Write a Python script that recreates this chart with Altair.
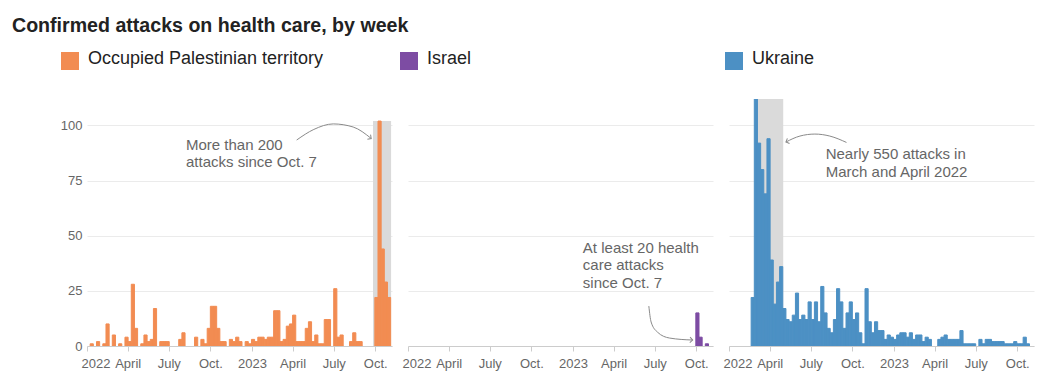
import altair as alt
import pandas as pd

FONT = "Liberation Sans"
TITLE = "Confirmed attacks on health care, by week"
series_names = ["Occupied Palestinian territory", "Israel", "Ukraine"]
series_colors = ["#f28c52", "#7d4ca3", "#4c90c4"]

# weekly bins (weeks starting on Saturday, 2022-01-01 ... 2023-10-28)
week_starts = pd.date_range("2022-01-01", periods=96, freq="7D")

opt_values = [
    0, 1, 0, 2, 0, 1, 10, 0, 5, 0,
    1, 0, 4, 2, 28, 8, 0, 1, 5, 2,
    3, 17, 0, 2, 2, 2, 0, 0, 0, 3,
    6, 0, 0, 0, 4, 0, 3, 1, 8, 18,
    18, 8, 2, 2, 0, 3, 2, 4, 2, 0,
    2, 1, 3, 2, 4, 4, 3, 4, 4, 16,
    16, 2, 3, 9, 10, 14, 2, 2, 2, 8,
    11, 2, 5, 1, 1, 12, 12, 0, 26, 4,
    5, 0, 0, 2, 6, 2, 2, 0, 0, 0,
    0, 22, 102, 44, 29, 22,
]
israel_values = [
    0, 0, 0, 0, 0, 0, 0, 0, 0, 0,
    0, 0, 0, 0, 0, 0, 0, 0, 0, 0,
    0, 0, 0, 0, 0, 0, 0, 0, 0, 0,
    0, 0, 0, 0, 0, 0, 0, 0, 0, 0,
    0, 0, 0, 0, 0, 0, 0, 0, 0, 0,
    0, 0, 0, 0, 0, 0, 0, 0, 0, 0,
    0, 0, 0, 0, 0, 0, 0, 0, 0, 0,
    0, 0, 0, 0, 0, 0, 0, 0, 0, 0,
    0, 0, 0, 0, 0, 0, 0, 0, 0, 0,
    0, 15, 4, 0, 1, 0,
]
ukraine_values = [
    0, 0, 0, 0, 0, 0, 0, 22, 120, 92,
    80, 69, 94, 39, 19, 29, 36, 17, 12, 11,
    14, 24, 12, 14, 12, 20, 12, 20, 11, 27,
    15, 8, 6, 12, 26, 20, 8, 15, 20, 12,
    15, 6, 1, 26, 11, 6, 11, 7, 7, 3,
    5, 4, 3, 5, 6, 6, 4, 6, 3, 5,
    5, 2, 4, 3, 0, 0, 3, 4, 5, 3,
    3, 3, 3, 7, 1, 1, 1, 1, 0, 3,
    1, 3, 3, 2, 2, 2, 2, 1, 1, 1,
    2, 1, 1, 4, 1, 0,
]

tick_dates = ["2022-01-01", "2022-04-01", "2022-07-01", "2022-10-01",
              "2023-01-01", "2023-04-01", "2023-07-01", "2023-10-01"]
tick_labels = ["2022", "April", "July", "Oct.", "2023", "April", "July", "Oct."]
y_ticks = [0, 25, 50, 75, 100]

# highlight bands
band_start = ["2023-09-26", None, "2022-03-01"]
band_end = ["2023-11-05", None, "2022-05-01"]
band_top = [102, None, 112]

# annotations
ann_text = ["More than 200\nattacks since Oct. 7",
            "At least 20 health\ncare attacks\nsince Oct. 7",
            "Nearly 550 attacks in\nMarch and April 2022"]
ann_date = ["2022-08-08", "2023-01-23", "2022-08-03"]
ann_value = [89.1, 42.3, 84.6]

arrow_dates = [
    ["2023-04-10", "2023-05-18", "2023-06-30", "2023-08-13", "2023-09-22"],
    ["2023-06-18", "2023-06-23", "2023-07-07", "2023-08-03", "2023-09-23"],
    ["2022-09-18", "2022-08-12", "2022-07-10", "2022-06-07", "2022-05-07"],
]
arrow_values = [
    [93.4, 98.2, 100.7, 99.3, 94.1],
    [18.1, 10.9, 6.3, 3.6, 2.7],
    [92.3, 95.2, 96.1, 95.2, 92.5],
]
arrow_head_angle = [35, 3, 157]

# legend placement relative to each plot's top-left corner (pixels)
legend_sq_x = [-26, -8, -4]
legend_tx_x = [1, 19, 23]

W, H = 305, 247


def dt(s):
    return alt.DateTime(year=int(s[:4]), month=int(s[5:7]), date=int(s[8:10]))


x_scale = alt.Scale(domain=[dt("2022-01-01"), dt("2023-11-07")], nice=False)
y_scale = alt.Scale(domain=[0, 112], nice=False)

label_expr = "''"
for d, lab in reversed(list(zip(tick_dates, tick_labels))):
    label_expr = f"timeFormat(datum.value, '%Y-%m') === '{d[:7]}' ? '{lab}' : ({label_expr})"

x_axis = alt.Axis(values=[dt(d) for d in tick_dates], labelExpr=label_expr, title=None,
                  grid=False, tickSize=5, tickColor="#cccccc", domainColor="#cccccc",
                  labelColor="#666666", labelFontSize=13, labelFont=FONT, labelPadding=6,
                  labelFlush=True, labelFlushOffset=6, labelOverlap=False)


def y_axis(show):
    return alt.Axis(values=y_ticks, title=None, ticks=False, domain=False, grid=True,
                    gridColor="#ebebeb", labels=show, labelColor="#666666",
                    labelFontSize=13, labelFont=FONT, labelPadding=5)


def panel(i, values, show_y, with_title):
    color = series_colors[i]
    X = alt.X("week:T", scale=x_scale, axis=x_axis)
    Y = alt.Y("attacks:Q", scale=y_scale, axis=y_axis(show_y))

    df = pd.DataFrame({"week": week_starts,
                       "week_end": week_starts + pd.Timedelta(days=7),
                       "attacks": values})
    df = df[df["attacks"] > 0]

    layers = []
    if band_start[i] is not None:
        band = pd.DataFrame({"week": [pd.Timestamp(band_start[i])],
                             "week_end": [pd.Timestamp(band_end[i])],
                             "attacks": [band_top[i]]})
        layers.append(alt.Chart(band).mark_rect(color="#dadada", clip=True).encode(
            x=X, x2="week_end:T", y=Y, y2=alt.datum(0)))

    layers.append(alt.Chart(df).mark_rect(
        color=color, stroke=color, strokeWidth=1, clip=True).encode(
        x=X, x2="week_end:T", y=Y, y2=alt.datum(0)))

    arrow_df = pd.DataFrame({"week": pd.to_datetime(arrow_dates[i]),
                             "attacks": arrow_values[i]})
    layers.append(alt.Chart(arrow_df).mark_line(
        color="#8a8a8a", strokeWidth=1, interpolate="monotone").encode(x=X, y=Y))
    head_df = arrow_df.iloc[[-1]]
    layers.append(alt.Chart(head_df).mark_point(
        shape="M-1,-1L0,0L-1,1", filled=False, color="#8a8a8a", strokeWidth=1,
        size=30, angle=arrow_head_angle[i], opacity=1).encode(x=X, y=Y))

    ann_df = pd.DataFrame({"week": [pd.Timestamp(ann_date[i])],
                           "attacks": [ann_value[i]], "note": [ann_text[i]]})
    layers.append(alt.Chart(ann_df).mark_text(
        align="left", baseline="alphabetic", lineBreak="\n", lineHeight=17.5,
        fontSize=15, font=FONT, color="#666666").encode(x=X, y=Y, text="note:N"))

    leg = pd.DataFrame({"name": [series_names[i]]})
    layers.append(alt.Chart(leg).mark_rect(color=color).encode(
        x=alt.value(legend_sq_x[i]), x2=alt.value(legend_sq_x[i] + 18),
        y=alt.value(-47), y2=alt.value(-29)))
    layers.append(alt.Chart(leg).mark_text(
        align="left", baseline="alphabetic", fontSize=18, font=FONT, color="#222222").encode(
        x=alt.value(legend_tx_x[i]), y=alt.value(-35), text="name:N"))

    if with_title:
        tdf = pd.DataFrame({"title": [TITLE]})
        layers.append(alt.Chart(tdf).mark_text(
            align="left", baseline="alphabetic", fontSize=19.6, fontWeight="bold",
            font=FONT, color="#222222").encode(
            x=alt.value(-75), y=alt.value(-67), text="title:N"))

    return alt.layer(*layers).properties(width=W, height=H)


p1 = panel(0, opt_values, True, True)
p2 = panel(1, israel_values, False, False)
p3 = panel(2, ukraine_values, False, False)

chart = alt.hconcat(p1, p2, p3, spacing=16, bounds="flush").properties(
    padding={"left": 4, "top": 8, "right": 5, "bottom": 5},
    background="white",
).configure_view(stroke=None)

chart.save("out.html", embed_options={"renderer": "svg", "actions": False})
